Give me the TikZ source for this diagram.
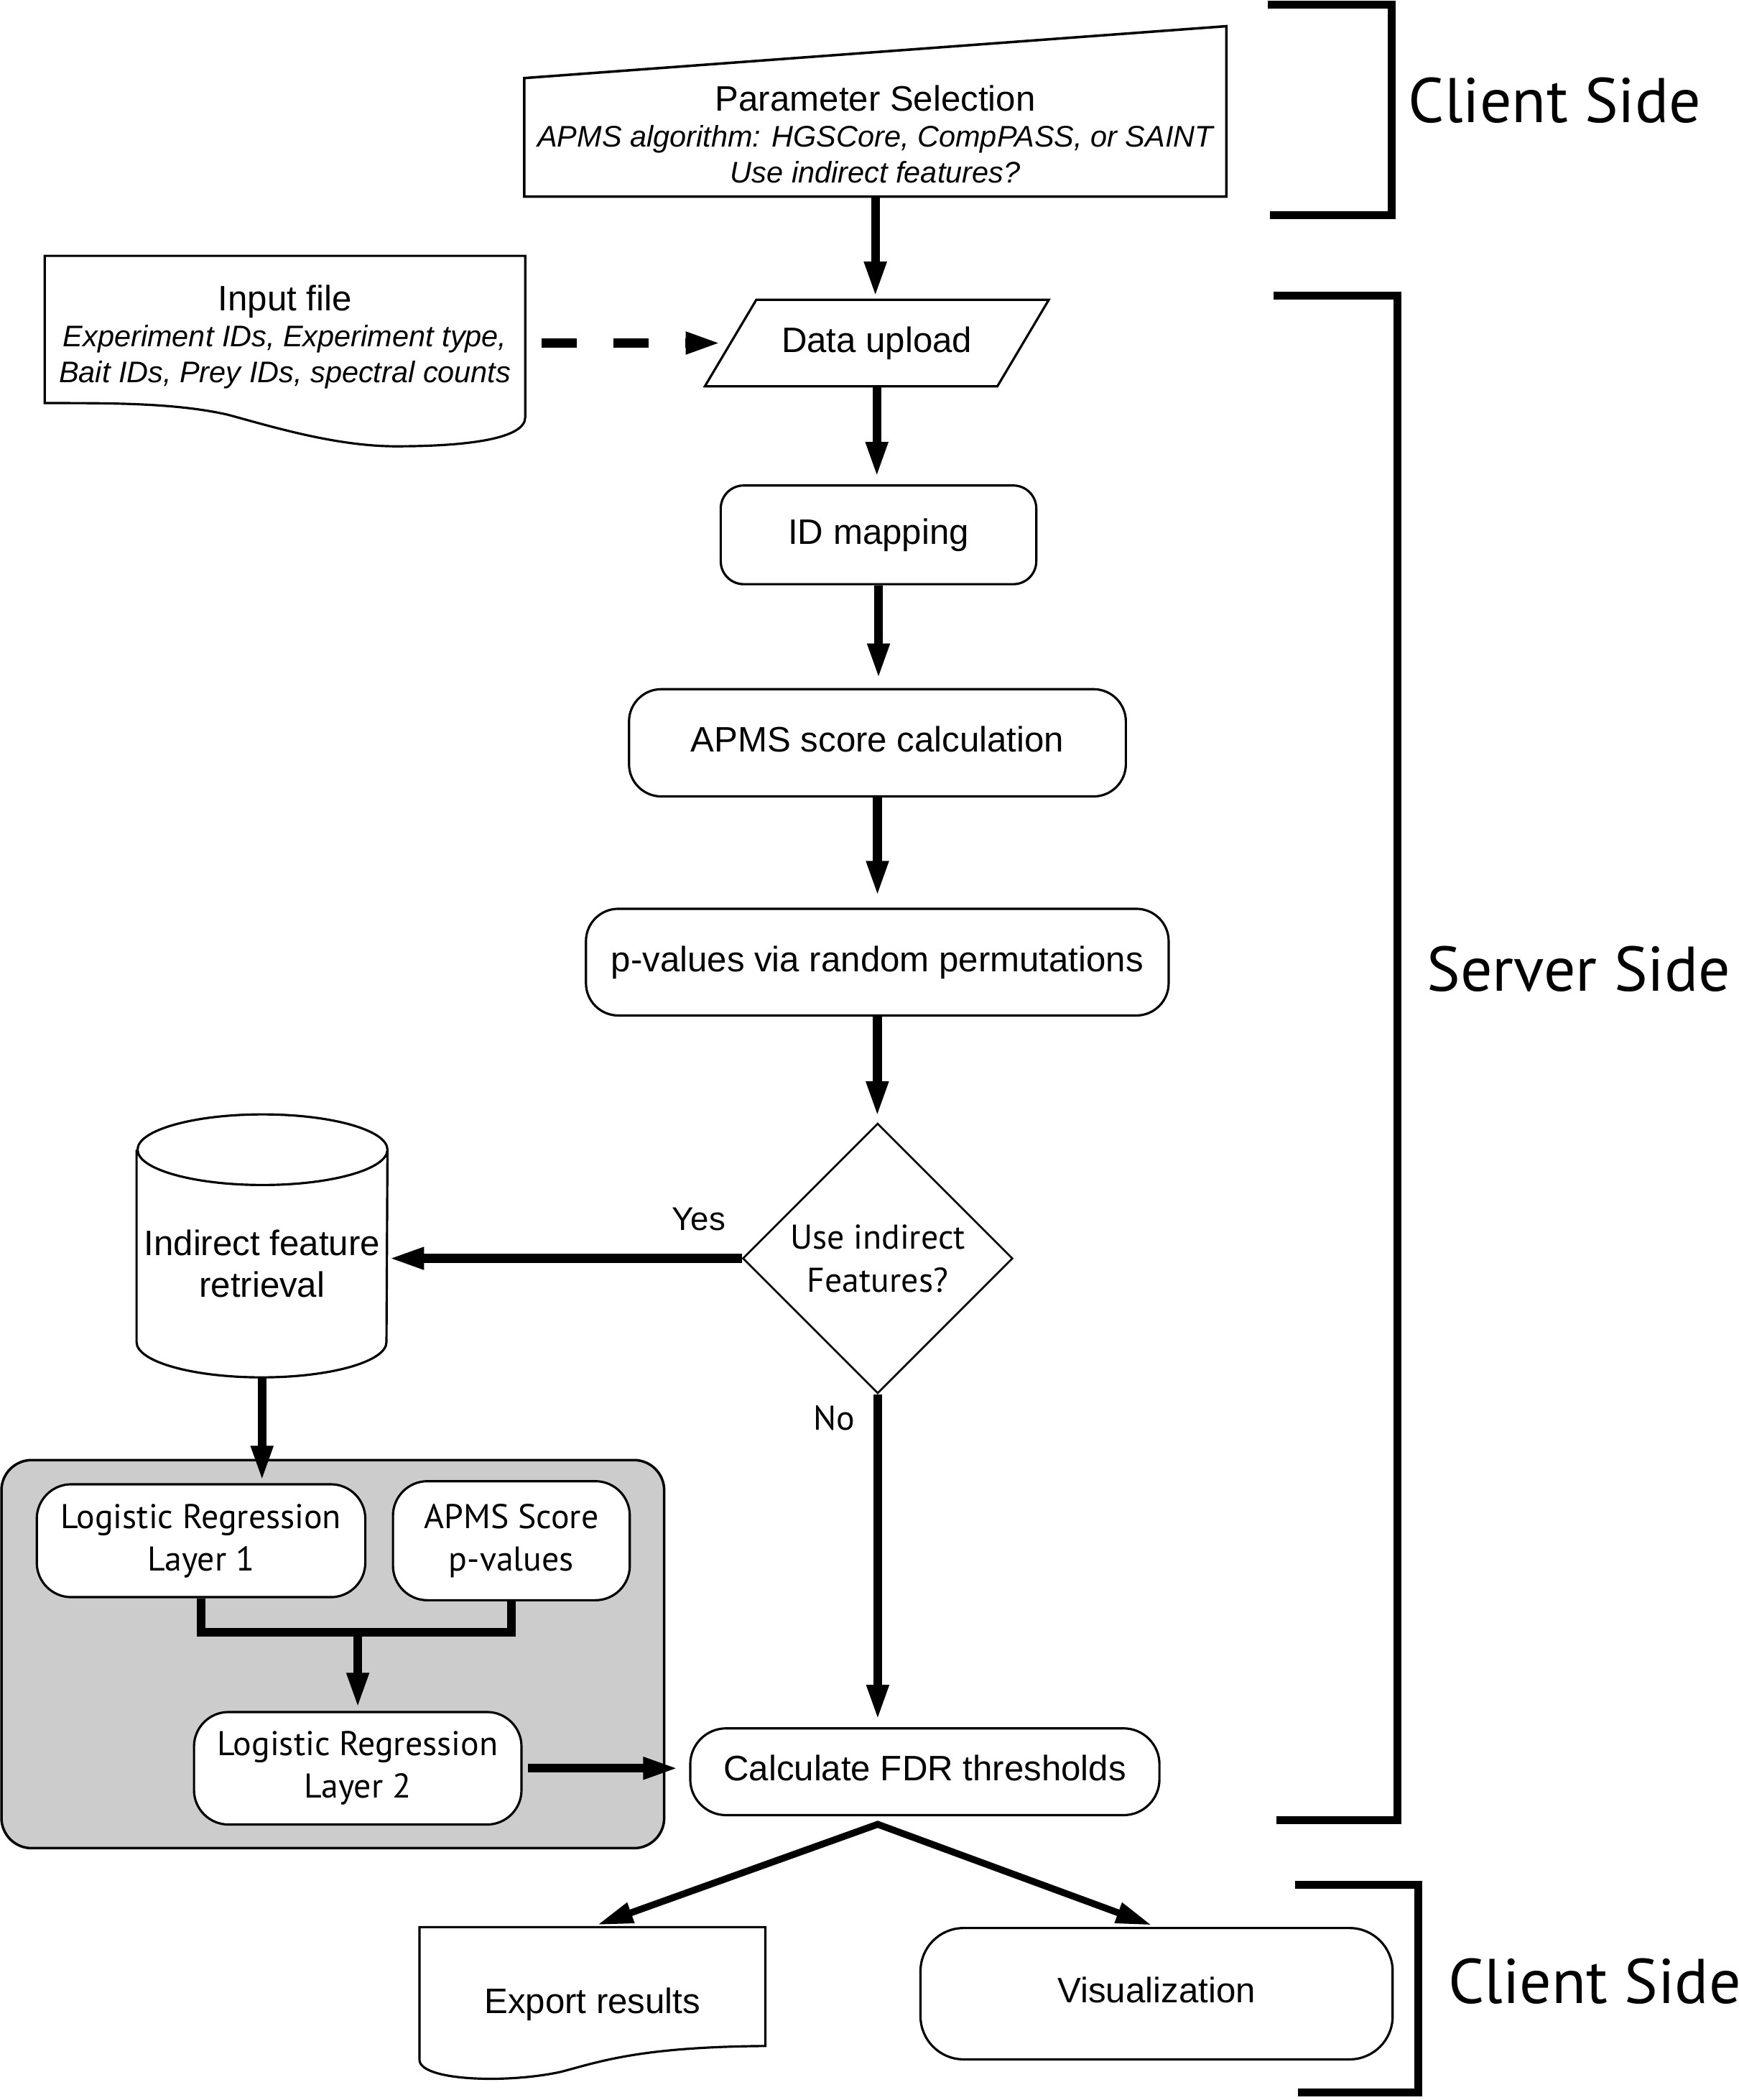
\documentclass[tikz,border=0pt]{standalone}
\usepackage{fontspec}
\setmainfont{Liberation Sans}
\newfontfamily\myriad{PT Sans}
\usetikzlibrary{arrows.meta,shapes.geometric,calc}
\definecolor{panelgray}{gray}{0.8}

\begin{document}
\begin{tikzpicture}
[x=0.018615cm, y=0.018615cm,
outline/.style={draw=black, line width=0.9pt},
plain/.style={inner sep=0pt, align=center, font=\fontsize{14}{14.2}\selectfont},
process/.style={outline, rounded corners=0.45cm, inner sep=0pt, font=\fontsize{14}{16.6}\selectfont, text height=10.2pt, text depth=2.9pt},
lrbox/.style={outline, fill=white, rounded corners=0.48cm, inner sep=0pt, align=center, font=\myriad\fontsize{13.6}{16.8}\selectfont},
decision/.style={diamond, draw=black, line width=0.75pt, inner sep=0pt, minimum width=3.76cm, minimum height=3.76cm},
panel/.style={draw=black, line width=1pt, fill=panelgray, rounded corners=0.42cm, inner sep=0pt},
side/.style={inner sep=0pt, font=\myriad\fontsize{25}{30}\selectfont},
sidebar/.style={line width=0.11cm},
tip/.style={-{Triangle[length=0.5cm,width=0.28cm]}},
myarrow/.style={tip, line width=3.5pt, shorten >=0.09cm},
dedge/.style={tip, line width=3.6pt, dash pattern=on 0.49cm off 0.51cm},
splitedge/.style={{Triangle[length=0.5cm,width=0.28cm]}-{Triangle[length=0.5cm,width=0.28cm]}, line width=2.7pt, shorten <=0.07cm, shorten >=0.07cm},
myedge/.style={line width=3.5pt}]
\useasboundingbox (0,0) rectangle (1300,-1570.2);
%%
\node (param) [plain, minimum width=9.760cm, minimum height=1.724cm] at (654.65,-100.3)
 {Parameter Selection\\{\itshape\fontsize{11.8}{14.2}\selectfont APMS algorithm: HGSCore, CompPASS, or SAINT}\\{\itshape\fontsize{11.8}{14.2}\selectfont Use indirect features?}};
\draw[outline, line width=1pt] (param.south west) -- ($(param.south west)+(0,88.6)$)
 -- ($(param.south east)+(0,127.4)$) -- (param.south east) -- cycle;
%%
\node (input) [plain, minimum width=6.690cm, minimum height=2.254cm] at (213.1,-251.85)
 {Input file\\{\itshape\fontsize{11.8}{14.2}\selectfont Experiment IDs, Experiment type,}\\{\itshape\fontsize{11.8}{14.2}\selectfont Bait IDs, Prey IDs, spectral counts}};
\draw[outline] (33.4,-191.3) -- (392.8,-191.3) -- (392.8,-312)
 .. controls (392.8,-328) and (350,-333.7) .. (296,-333.7)
 .. controls (250,-333.7) and (200,-318) .. (170,-310)
 .. controls (130,-301) and (80,-301.4) .. (33.4,-301.4) -- cycle;
%%
\node (upload) [plain, text height=10.2pt, text depth=2.9pt, minimum width=4.775cm, minimum height=1.191cm] at (655.75,-256.5) {Data upload};
\draw[outline] (upload.south west) -- ($(upload.north west)+(38.5,0)$) -- (upload.north east)
 -- ($(upload.south east)+(-38.5,0)$) -- cycle;
\node (idmap) [process, rounded corners=0.32cm, minimum width=4.393cm, minimum height=1.374cm] at (657,-399.9) {ID mapping};
\node (score) [process, minimum width=6.917cm, minimum height=1.493cm] at (656.2,-555.4) {APMS score calculation};
\node (perm) [process, minimum width=8.112cm, minimum height=1.485cm] at (656.1,-719.4) {p-values via random permutations};
\node (dec) [decision] at (656.4,-940.9) {};
\node (dectxt) [inner sep=0pt, align=center, font=\myriad\fontsize{13.6}{17}\selectfont] at (dec) {Use indirect\\Features?};
\node (yes) [anchor=base, inner sep=0pt, font=\fontsize{13}{13}\selectfont] at (522.5,-920.1) {Yes};
\node (no) [anchor=base, inner sep=0pt, font=\myriad\fontsize{13.6}{13.6}\selectfont] at (623.8,-1069.4) {No};
%%
\node (ifr) [plain, font=\fontsize{14}{16.6}\selectfont, minimum width=3.479cm, minimum height=3.155cm] at (195.95,-944.75) {Indirect feature\\retrieval};
\draw[outline] (ifr.north west) -- ($(ifr.south west)+(0,26.4)$)
 arc[start angle=180, end angle=360, x radius=1.7396cm, y radius=0.4914cm]
 -- (ifr.north east) arc[start angle=0, end angle=360, x radius=1.7396cm, y radius=0.4914cm];
%%
\node (panel) [panel, minimum width=9.226cm, minimum height=5.402cm] at (248.9,-1236.8) {};
\node (lr1) [lrbox, minimum width=4.574cm, minimum height=1.571cm] at (150.35,-1152) {Logistic Regression\\Layer 1};
\node (apmsp) [lrbox, minimum width=3.297cm, minimum height=1.657cm] at (382.45,-1152) {APMS Score\\p-values};
\node (lr2) [lrbox, minimum width=4.559cm, minimum height=1.566cm] at (267.55,-1322.15) {Logistic Regression\\Layer 2};
\coordinate (join) at ($(lr1.south)+(0,-25.6)$);
%%
\node (fdr) [process, rounded corners=0.5cm, minimum width=6.532cm, minimum height=1.208cm] at (691.65,-1324.75) {Calculate FDR thresholds};
\node (export) [plain, text height=10.2pt, text depth=2.9pt, minimum width=4.816cm, minimum height=2.152cm] at (443.05,-1498.7) {Export results};
\draw[outline] (313.7,-1440.9) -- (572.4,-1440.9) -- (572.4,-1529.8)
 .. controls (480,-1530.5) and (450,-1541) .. (420,-1549)
 .. controls (380,-1558) and (313.7,-1556) .. (313.7,-1540) -- cycle;
\node (vis) [process, rounded corners=0.6cm, minimum width=6.573cm, minimum height=1.828cm] at (864.95,-1490.7) {Visualization};
\coordinate (split) at ($(fdr.south -| dec.south)+(0,-6)$);
%%
\draw[myarrow, shorten >=0.03cm] (param.south) -- (param.south |- upload.north);
\draw[dedge, shorten <=0.218cm] (input.east |- upload.west) -- ($(upload.west)+(12.5,0)$);
\draw[myarrow] (upload.south) -- (upload.south |- idmap.north);
\draw[myarrow, shorten >=0.12cm] (idmap.south) -- (idmap.south |- score.north);
\draw[myarrow, shorten >=0.15cm] (score.south) -- (score.south |- perm.north);
\draw[myarrow, shorten >=0.07cm] (perm.south) -- (perm.south |- dec.north);
\draw[myarrow] (dec.south) -- (dec.south |- fdr.north);
\draw[myarrow, shorten >=0.01cm] (dec.west) -- (dec.west -| ifr.east);
\draw[myarrow, shorten >=0.02cm] (ifr.south) -- (ifr.south |- lr1.north);
\draw[myedge] (lr1.south) -- (join) -| (apmsp.south);
\draw[myarrow, shorten >=0.03cm] (lr2.north |- join) -- (lr2.north);
\draw[myarrow, shorten <=0.07cm, shorten >=0.14cm] (lr2.east) -- (lr2.east -| fdr.west);
\draw[splitedge] (export.north) -- (split) -- (vis.north);
%%
\draw[sidebar] (948,-3.3) -- (1041,-3.3) -- (1041,-160.8) -- (950,-160.8);
\draw[sidebar] (952.5,-221) -- (1045,-221) -- (1045,-1361) -- (954.5,-1361);
\draw[sidebar] (968.5,-1409.5) -- (1060.7,-1409.5) -- (1060.7,-1564.8) -- (970.5,-1564.8);
\node (client1) [side, anchor=base west] at (1053,-91.8) {Client Side};
\node (server) [side, anchor=base west] at (1066.8,-740.8) {Server Side};
\node (client2) [side, anchor=base west] at (1082.8,-1497.7) {Client Side};
\end{tikzpicture}
\end{document}
